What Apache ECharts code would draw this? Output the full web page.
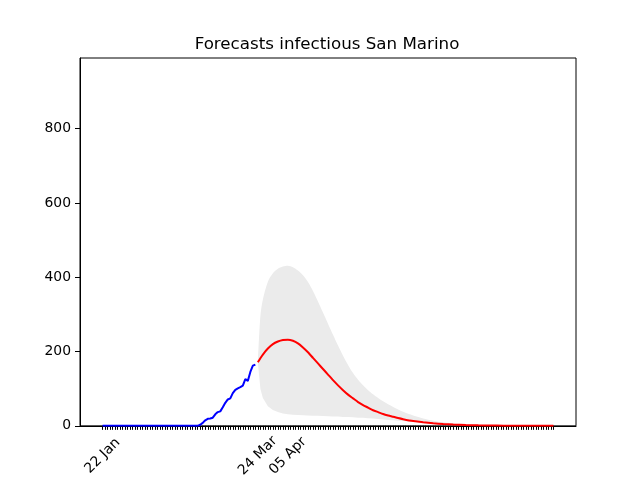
<!DOCTYPE html>
<html>
<head>
<meta charset="utf-8">
<script src="https://cdn.jsdelivr.net/npm/echarts@6/dist/echarts.min.js"></script>
<style>html,body{margin:0;padding:0;background:#fff}#c{width:640px;height:480px}</style>
</head>
<body>
<div id="c"></div>
<script>
// ---- data ----
const titleText = 'Forecasts infectious San Marino';
const labeledTicks = ['22 Jan', '24 Mar', '05 Apr'];
const firstDataDay = '22 Jan';
const lastDataDay = '20 Jul';
const yTicks = [0, 200, 400, 600, 800];

// observed infectious, daily from 22 Jan
const observed = [
  0,0,0,0,0,0,0,0,0,0, 0,0,0,0,0,0,0,0,0,0,
  0,0,0,0,0,0,0,0,0,0, 0,0,0,0,0,0,0,0,0,3,
  8,15,19,20,22,31,37,39,50,62, 71,74,88,97,101,104,108,126,121,145,
  162,165
];
// forecast: days after 22 Jan
const forecastDays  = [62,63,64,66,68,70,72,74,76,78,80,82,84,86,88,90,92,94,96,98,100,102,104,106,108,110,112,114,116,118,120,124,128,132,136,140,145,150,155,160,170,180];
const forecastMid   = [171,182,192,208,220,227,231,232,229,222,211,198,183,168,153,138,123,109,96,84,74,64,56,49,42,37,32,28,24.5,21,18,13,9.5,6.8,4.8,3.4,2.2,1.4,0.9,0.6,0.25,0.1];
const forecastUpper = [171,295,340,388,411,423,429,431,427,418,405,387,363,335,305,275,245,216,189,164,142,124,109,96,85,75,66,58,51,44,38,28,20,14,9.5,6.5,4,2.6,1.7,1.1,0.5,0.2];
const forecastLower = [171,100,75,53,43,37,33,31,30,29,28.5,28,27.5,27,26.5,26,25.5,25,24,23.5,23,22,21.5,20.5,19.5,18.5,17,16,15,14,13,11,8.5,6,4.2,3,2,1.3,0.85,0.55,0.23,0.09];

// ---- axis categories: one per day, 13 Jan .. 29 Jul 2020 ----
const monthNames = ['Jan','Feb','Mar','Apr','May','Jun','Jul','Aug','Sep','Oct','Nov','Dec'];
const categories = [];
const axisStart = Date.UTC(2020, 0, 13);
for (let i = 0; i < 199; i++) {
  const d = new Date(axisStart + i * 86400000);
  const dd = String(d.getUTCDate()).padStart(2, '0');
  categories.push(dd + ' ' + monthNames[d.getUTCMonth()]);
}
const startIdx = categories.indexOf(firstDataDay);
const endIdx = categories.indexOf(lastDataDay);
const cat = (day) => categories[startIdx + day];

const obsData = observed.map((v, i) => [cat(i), v]);
const midData = forecastDays.map((d, i) => [cat(d), forecastMid[i]]);
const lowData = forecastDays.map((d, i) => [cat(d), forecastLower[i]]);
const bandData = forecastDays.map((d, i) => [cat(d), forecastUpper[i] - forecastLower[i]]);

const FONT = 'DejaVu Sans';
const chart = echarts.init(document.getElementById('c'), null, {renderer: 'canvas'});
chart.setOption({
  animation: false,
  backgroundColor: '#fff',
  title: {
    text: titleText,
    left: 322, top: 31, textAlign: 'center',
    textStyle: {fontFamily: FONT, fontSize: 16.7, fontWeight: 'normal', color: '#000'}
  },
  grid: {left: 80, right: 64, top: 58, bottom: 53, show: true, borderColor: '#000', borderWidth: 1, backgroundColor: 'transparent'},
  xAxis: {
    type: 'category',
    data: categories,
    boundaryGap: false,
    axisLine: {show: true, lineStyle: {color: '#000', width: 1}},
    axisTick: {
      show: true, length: 4, lineStyle: {color: '#000', width: 1},
      interval: (idx) => idx >= startIdx && idx <= endIdx
    },
    axisLabel: {
      rotate: 45, margin: 30, color: '#000', fontFamily: FONT, fontSize: 13.9,
      align: 'center', verticalAlign: 'middle',
      interval: (idx, val) => labeledTicks.indexOf(val) >= 0
    },
    splitLine: {show: false}
  },
  yAxis: {
    type: 'value',
    min: 0, max: 990,
    axisLine: {show: true, lineStyle: {color: '#000', width: 1}},
    axisTick: {show: true, length: 5, lineStyle: {color: '#000'}, customValues: yTicks},
    axisLabel: {color: '#000', fontFamily: FONT, fontSize: 13.9, margin: 9, customValues: yTicks},
    splitLine: {show: false}
  },
  series: [
    {
      type: 'line', data: lowData, stack: 'band', symbol: 'none',
      lineStyle: {opacity: 0}, silent: true, z: 1
    },
    {
      type: 'line', data: bandData, stack: 'band', symbol: 'none', smooth: 0.3,
      lineStyle: {opacity: 0}, areaStyle: {color: '#ebebeb', opacity: 1}, silent: true, z: 1
    },
    {
      type: 'line', data: obsData, symbol: 'none',
      lineStyle: {color: '#0000ff', width: 2}, z: 3
    },
    {
      type: 'line', data: midData, symbol: 'none', smooth: 0.2,
      lineStyle: {color: '#ff0000', width: 2}, z: 3
    }
  ]
});
</script>
</body>
</html>
